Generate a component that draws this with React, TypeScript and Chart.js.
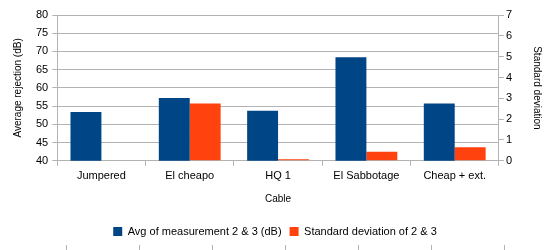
import React, { useEffect, useRef } from "react";
import { Chart, registerables } from "chart.js";

Chart.register(...registerables);

const categories = ["Jumpered", "El cheapo", "HQ 1", "El Sabbotage", "Cheap + ext."];
const avgRejection = [53.4, 57.2, 53.7, 68.4, 55.7];
const stdDeviation = [0, 2.75, 0.08, 0.43, 0.65];
const seriesNames = ["Avg of measurement 2 & 3 (dB)", "Standard deviation of 2 & 3"];

const FONT = "'Liberation Sans', Arial, sans-serif";
const GRID = "#b3b3b3";

// faint tick row along the bottom edge of the picture (decoration)
const bottomTicks = {
  id: "bottomTicks",
  afterDraw(chart: any) {
    const c = chart.ctx;
    const w = chart.width;
    const h = chart.height;
    const start = w * 0.12;
    const step = w * 0.1327;
    c.save();
    c.strokeStyle = GRID;
    c.lineWidth = 1;
    for (let i = 0; i < 7; i++) {
      const x = Math.round(start + step * i) + 0.5;
      c.beginPath();
      c.moveTo(x, h - 5);
      c.lineTo(x, h);
      c.stroke();
    }
    c.restore();
  },
};

export default function App() {
  const ref = useRef<HTMLCanvasElement | null>(null);
  useEffect(() => {
    document.body.style.margin = "0";
    const ctx = ref.current!;
    const chart = new Chart(ctx, {
      type: "bar",
      data: {
        labels: categories,
        datasets: [
          { label: seriesNames[0], data: avgRejection, backgroundColor: "#004586", yAxisID: "y", barPercentage: 1, categoryPercentage: 0.7 },
          { label: seriesNames[1], data: stdDeviation, backgroundColor: "#ff420e", yAxisID: "y2", barPercentage: 1, categoryPercentage: 0.7 },
        ],
      },
      plugins: [bottomTicks],
      options: {
        responsive: false,
        animation: false,
        layout: { padding: { top: 15, left: 4, right: 4, bottom: 3 } },
        plugins: {
          tooltip: { enabled: false },
          legend: {
            position: "bottom",
            labels: { font: { family: FONT, size: 11 }, color: "#000", boxWidth: 9, boxHeight: 9, padding: 8 },
          },
        },
        scales: {
          x: {
            grid: { drawOnChartArea: false, color: GRID, tickLength: 5, offset: true },
            border: { color: GRID },
            ticks: { font: { family: FONT, size: 11 }, color: "#000", padding: 4 },
            title: { display: true, text: "Cable", font: { family: FONT, size: 10 }, color: "#000", padding: { top: 6, bottom: 13 } },
          },
          y: {
            position: "left",
            min: 40,
            max: 80,
            ticks: { stepSize: 5, font: { family: FONT, size: 11 }, color: "#000", padding: 4 },
            grid: { color: GRID, tickLength: 5 },
            border: { color: GRID },
            title: { display: true, text: "Average rejection (dB)", font: { family: FONT, size: 10 }, color: "#000", padding: { top: 8, bottom: 8 } },
          },
          y2: {
            position: "right",
            min: 0,
            max: 7,
            ticks: { stepSize: 1, font: { family: FONT, size: 11 }, color: "#000", padding: 2 },
            grid: { drawOnChartArea: false, color: GRID, tickLength: 5 },
            border: { color: GRID },
            title: { display: true, text: "Standard deviation", font: { family: FONT, size: 10 }, color: "#000", padding: { top: 3, bottom: 17 } },
          },
        },
      },
    });
    return () => chart.destroy();
  }, []);
  return <canvas ref={ref} width={550} height={250} style={{ display: "block" }} />;
}
